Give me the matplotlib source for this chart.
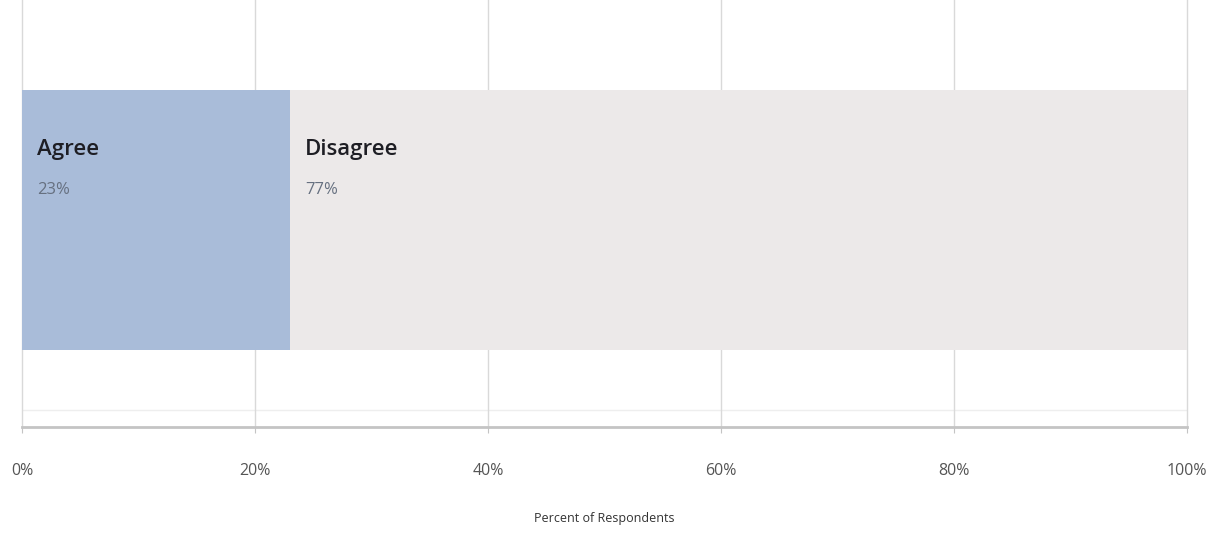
import matplotlib.pyplot as plt

# survey split
categories = ["Agree", "Disagree"]
shares = [23, 77]
colors = ["#a9bcd9", "#ece9e9"]
tick_values = [0, 20, 40, 60, 80, 100]
tick_labels = ["0%", "20%", "40%", "60%", "80%", "100%"]

plt.rcParams['font.family'] = ['Open Sans', 'DejaVu Sans']

fig = plt.figure(figsize=(12.18, 5.39), dpi=100)
ax = fig.add_axes([0.018, 0.208, 0.9565, 0.792])

# stacked horizontal bar
left = 0
for name, val, col in zip(categories, shares, colors):
    ax.barh(0.485, val, height=0.609, left=left, color=col, zorder=2)
    ax.text(left + 1.3, 0.649, name, fontsize=16, fontweight="semibold", color="#1e1e24",
            va="center", ha="left", zorder=3)
    ax.text(left + 1.3, 0.555, f"{val}%", fontsize=12, color="#667080", va="center", ha="left", zorder=3)
    left += val

ax.set_xlim(0, 100)
ax.set_ylim(0, 1)
ax.set_xticks(tick_values)
ax.set_xticklabels(tick_labels, fontsize=11.5, color="#555555")
ax.set_yticks([])
ax.grid(axis="x", color="#d9d9d9", linewidth=1, zorder=0)
for gl in ax.get_xgridlines():
    gl.set_clip_on(False)
ax.axhline(0.04, color="#eeeeee", linewidth=1, zorder=1)
for s in ["top", "right", "left"]:
    ax.spines[s].set_visible(False)
ax.spines["bottom"].set_color("#c4c4c4")
ax.spines["bottom"].set_linewidth(2)
ax.tick_params(axis="x", length=4, color="#c4c4c4", pad=22)
ax.set_xlabel("Percent of Respondents", fontsize=9, color="#333333", labelpad=24)

fig.savefig("out.png", dpi=100)
